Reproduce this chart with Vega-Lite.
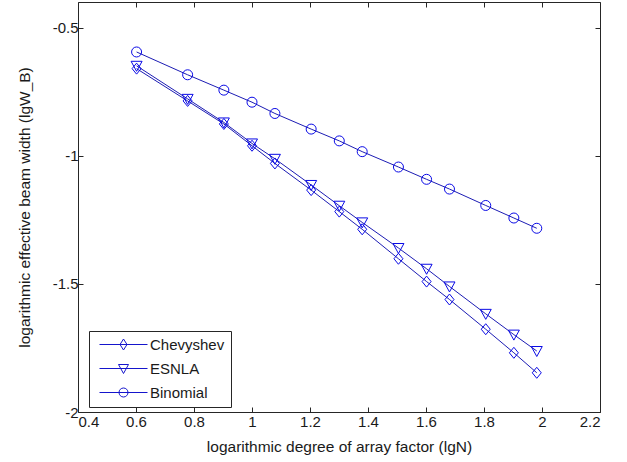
{
  "$schema": "https://vega.github.io/schema/vega-lite/v6.json",
  "width": 522,
  "height": 410,
  "autosize": {"type": "none"},
  "padding": {"left": 78, "top": 2, "right": 27, "bottom": 50},
  "background": "white",
  "config": {
    "font": "Liberation Sans",
    "view": {"stroke": null},
    "axis": {
      "grid": false,
      "domainColor": "#262626",
      "tickColor": "#262626",
      "labelColor": "#1a1a1a",
      "titleColor": "#1a1a1a",
      "labelFont": "Liberation Sans",
      "titleFont": "Liberation Sans",
      "labelFontSize": 15,
      "titleFontSize": 15.5,
      "titleFontWeight": "normal",
      "tickSize": -5,
      "labelPadding": 5
    }
  },
  "data": {
    "values": [
      {"series": "Chevyshev", "x": 0.602, "y": -0.660},
      {"series": "Chevyshev", "x": 0.778, "y": -0.786},
      {"series": "Chevyshev", "x": 0.903, "y": -0.876},
      {"series": "Chevyshev", "x": 1.0, "y": -0.961},
      {"series": "Chevyshev", "x": 1.079, "y": -1.030},
      {"series": "Chevyshev", "x": 1.204, "y": -1.134},
      {"series": "Chevyshev", "x": 1.301, "y": -1.218},
      {"series": "Chevyshev", "x": 1.380, "y": -1.287},
      {"series": "Chevyshev", "x": 1.505, "y": -1.402},
      {"series": "Chevyshev", "x": 1.602, "y": -1.491},
      {"series": "Chevyshev", "x": 1.681, "y": -1.561},
      {"series": "Chevyshev", "x": 1.806, "y": -1.677},
      {"series": "Chevyshev", "x": 1.903, "y": -1.769},
      {"series": "Chevyshev", "x": 1.982, "y": -1.847},
      {"series": "ESNLA", "x": 0.602, "y": -0.649},
      {"series": "ESNLA", "x": 0.778, "y": -0.778},
      {"series": "ESNLA", "x": 0.903, "y": -0.870},
      {"series": "ESNLA", "x": 1.0, "y": -0.952},
      {"series": "ESNLA", "x": 1.079, "y": -1.012},
      {"series": "ESNLA", "x": 1.204, "y": -1.114},
      {"series": "ESNLA", "x": 1.301, "y": -1.195},
      {"series": "ESNLA", "x": 1.380, "y": -1.260},
      {"series": "ESNLA", "x": 1.505, "y": -1.360},
      {"series": "ESNLA", "x": 1.602, "y": -1.441},
      {"series": "ESNLA", "x": 1.681, "y": -1.510},
      {"series": "ESNLA", "x": 1.806, "y": -1.617},
      {"series": "ESNLA", "x": 1.903, "y": -1.698},
      {"series": "ESNLA", "x": 1.982, "y": -1.762},
      {"series": "Binomial", "x": 0.602, "y": -0.595},
      {"series": "Binomial", "x": 0.778, "y": -0.684},
      {"series": "Binomial", "x": 0.903, "y": -0.744},
      {"series": "Binomial", "x": 1.0, "y": -0.791},
      {"series": "Binomial", "x": 1.079, "y": -0.835},
      {"series": "Binomial", "x": 1.204, "y": -0.896},
      {"series": "Binomial", "x": 1.301, "y": -0.942},
      {"series": "Binomial", "x": 1.380, "y": -0.984},
      {"series": "Binomial", "x": 1.505, "y": -1.044},
      {"series": "Binomial", "x": 1.602, "y": -1.092},
      {"series": "Binomial", "x": 1.681, "y": -1.130},
      {"series": "Binomial", "x": 1.806, "y": -1.194},
      {"series": "Binomial", "x": 1.903, "y": -1.243},
      {"series": "Binomial", "x": 1.982, "y": -1.283}
    ]
  },
  "layer": [
    {
      "mark": {"type": "line", "stroke": "#1c1cb4", "strokeWidth": 1},
      "encoding": {
        "x": {
          "field": "x", "type": "quantitative",
          "scale": {"domain": [0.4, 2.2], "nice": false, "zero": false},
          "axis": {
            "orient": "bottom",
            "values": [0.4, 0.6, 0.8, 1, 1.2, 1.4, 1.6, 1.8, 2, 2.2],
            "labelExpr": "'' + datum.value",
            "labelPadding": 7,
            "title": "logarithmic degree of array factor (lgN)",
            "titlePadding": 10
          }
        },
        "y": {
          "field": "y", "type": "quantitative",
          "scale": {"domain": [-2, -0.4], "nice": false, "zero": false},
          "axis": {
            "orient": "left",
            "values": [-2, -1.5, -1, -0.5],
            "labelExpr": "'' + datum.value",
            "title": "logarithmic effective beam width (lgW_B)",
            "titlePadding": 20
          }
        },
        "detail": {"field": "series", "type": "nominal"},
        "order": {"field": "x", "type": "quantitative"}
      }
    },
    {
      "mark": {"type": "point", "filled": false, "stroke": "#0a0ae6", "strokeWidth": 1, "size": 100, "opacity": 1},
      "encoding": {
        "x": {"field": "x", "type": "quantitative", "axis": null},
        "y": {"field": "y", "type": "quantitative", "axis": null},
        "shape": {
          "field": "series", "type": "nominal",
          "scale": {
            "domain": ["Chevyshev", "ESNLA", "Binomial"],
            "range": ["M0,-1.1L0.9,0L0,1.1L-0.9,0Z", "M-1.1,-0.9H1.1L0,1.1Z", "circle"]
          },
          "legend": null
        }
      }
    },
    {
      "transform": [{"filter": "false"}],
      "mark": {"type": "point", "filled": false, "stroke": "#1515cc", "strokeWidth": 1, "size": 100, "opacity": 1},
      "encoding": {
        "x": {"field": "x", "type": "quantitative", "axis": null},
        "y": {"field": "y", "type": "quantitative", "axis": null},
        "shape": {
          "field": "series", "type": "nominal",
          "scale": {
            "domain": ["Chevyshev", "ESNLA", "Binomial"],
            "range": [
              "M-4.8,0H4.8M0,-1.1L0.7,0L0,1.1L-0.7,0Z",
              "M-4.8,0H4.8M-1,-0.8H1L0,1Z",
              "M-4.8,0H4.8M-0.9,0A0.9,0.9,0,1,0,0.9,0A0.9,0.9,0,1,0,-0.9,0Z"
            ]
          },
          "legend": {
            "orient": "none",
            "legendX": 11,
            "legendY": 329,
            "title": null,
            "symbolSize": 100,
            "symbolOffset": 21,
            "labelOffset": 19,
            "padding": 6,
            "rowPadding": 8,
            "strokeColor": "#262626",
            "fillColor": "white",
            "cornerRadius": 0,
            "labelFont": "Liberation Sans",
            "labelFontSize": 15,
            "labelColor": "#1a1a1a",
            "symbolStrokeWidth": 1,
            "symbolStrokeColor": "#1515cc",
            "symbolFillColor": "transparent"
          }
        }
      }
    },
    {
      "mark": {"type": "point", "opacity": 0},
      "encoding": {
        "x": {
          "field": "x", "type": "quantitative",
          "axis": {"orient": "top", "values": [0.4, 0.6, 0.8, 1, 1.2, 1.4, 1.6, 1.8, 2, 2.2], "labels": false, "title": null}
        },
        "y": {
          "field": "y", "type": "quantitative",
          "axis": {"orient": "right", "values": [-2, -1.5, -1, -0.5], "labels": false, "title": null}
        }
      }
    }
  ],
  "resolve": {"axis": {"x": "independent", "y": "independent"}, "scale": {"shape": "independent"}}
}
